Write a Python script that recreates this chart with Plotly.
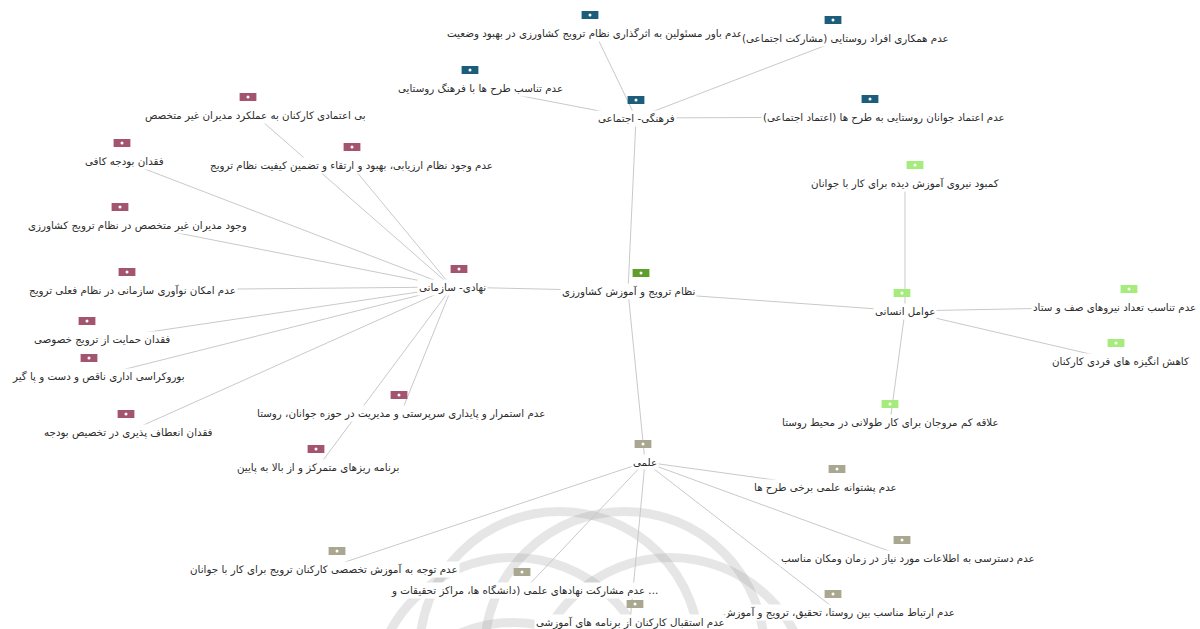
import math
import plotly.graph_objects as go

# ---------------- data ----------------
node_labels = [
    "نظام ترویج و آموزش کشاورزی",
    "فرهنگی- اجتماعی",
    "نهادی- سازمانی",
    "عوامل انسانی",
    "علمی",
    # فرهنگی- اجتماعی
    "عدم باور مسئولین به اثرگذاری نظام ترویج کشاورزی در بهبود وضعیت",
    "عدم همکاری افراد روستایی (مشارکت اجتماعی)",
    "عدم تناسب طرح ها با فرهنگ روستایی",
    "عدم اعتماد جوانان روستایی به طرح ها (اعتماد اجتماعی)",
    # نهادی- سازمانی
    "بی اعتمادی کارکنان به عملکرد مدیران غیر متخصص",
    "فقدان بودجه کافی",
    "عدم وجود نظام ارزیابی، بهبود و ارتقاء و تضمین کیفیت نظام ترویج",
    "وجود مدیران غیر متخصص در نظام ترویج کشاورزی",
    "عدم امکان نوآوری سازمانی در نظام فعلی ترویج",
    "فقدان حمایت از ترویج خصوصی",
    "بوروکراسی اداری ناقص و دست و پا گیر",
    "فقدان انعطاف پذیری در تخصیص بودجه",
    "عدم استمرار و پایداری سرپرستی و مدیریت در حوزه جوانان، روستا",
    "برنامه ریزهای متمرکز و از بالا به پایین",
    # عوامل انسانی
    "کمبود نیروی آموزش دیده برای کار با جوانان",
    "عدم تناسب تعداد نیروهای صف و ستاد",
    "کاهش انگیزه های فردی کارکنان",
    "علاقه کم مروجان برای کار طولانی در محیط روستا",
    # علمی
    "عدم پشتوانه علمی برخی طرح ها",
    "عدم دسترسی به اطلاعات مورد نیاز در زمان ومکان مناسب",
    "عدم ارتباط مناسب بین روستا، تحقیق، ترویج و آموزش",
    "عدم استقبال کارکنان از برنامه های آموزشی",
    "عدم مشارکت نهادهای علمی (دانشگاه ها، مراکز تحقیقات و ...",
    "عدم توجه به آموزش تخصصی کارکنان ترویج برای کار با جوانان",
]

node_group = [
    "root", "culture", "institution", "human", "science",
    "culture", "culture", "culture", "culture",
    "institution", "institution", "institution", "institution", "institution",
    "institution", "institution", "institution", "institution", "institution",
    "human", "human", "human", "human",
    "science", "science", "science", "science", "science", "science",
]

# layout position of each node's label (network layout space, 1200 x 629)
node_x = [628, 636, 452, 905, 645,
          595, 845, 480, 884,
          255, 124, 351, 137, 132, 102, 98, 128, 401, 318,
          905, 1114, 1120, 890,
          825, 908, 839, 630, 524, 324]
node_y = [291, 118, 287, 311, 462,
          33, 38, 88, 117,
          115, 161, 165, 225, 290, 339, 376, 432, 413, 467,
          183, 307, 361, 422,
          487, 558, 612, 622, 590, 569]
# layout x of each node's icon
icon_x = [641, 636, 459, 902, 643,
          590, 833, 470, 870,
          248, 122, 352, 120, 127, 87, 89, 126, 399, 316,
          915, 1129, 1116, 890,
          837, 902, 833, 635, 522, 337]

edge_source = [0, 0, 0, 0,
               1, 1, 1, 1,
               2, 2, 2, 2, 2, 2, 2, 2, 2, 2,
               3, 3, 3, 3,
               4, 4, 4, 4, 4, 4]
edge_target = [1, 2, 3, 4,
               5, 6, 7, 8,
               9, 10, 11, 12, 13, 14, 15, 16, 17, 18,
               19, 20, 21, 22,
               23, 24, 25, 26, 27, 28]

group_colors = {
    "root": "#5f9e2a",
    "culture": "#1d5d7c",
    "institution": "#a3546f",
    "human": "#a6ec7c",
    "science": "#a9a78f",
}
# ---------------------------------------

W, H = 1200, 629
FONT = "DejaVu Sans, Tahoma, sans-serif"
ICON_OFFSET = 18

fig = go.Figure()

# faint watermark emblem in the background
wm_cx, wm_cy, wm_R, wm_r = 592, 730, 85, 140
for k in range(8):
    a = math.pi * (k / 4.0) + math.pi / 8
    cx = wm_cx + wm_R * math.cos(a)
    cy = wm_cy + wm_R * math.sin(a)
    fig.add_shape(type="circle", xref="x", yref="y",
                  x0=cx - wm_r, x1=cx + wm_r, y0=cy - wm_r, y1=cy + wm_r,
                  line=dict(color="rgba(160,160,160,0.26)", width=9),
                  layer="below")

# edges
ex, ey = [], []
for s, t in zip(edge_source, edge_target):
    ex += [node_x[s], node_x[t], None]
    ey += [node_y[s], node_y[t], None]
fig.add_trace(go.Scatter(x=ex, y=ey, mode="lines",
                         line=dict(color="#c9c9c9", width=1),
                         hoverinfo="skip", showlegend=False))

# icons
for g, col in group_colors.items():
    idx = [i for i, gg in enumerate(node_group) if gg == g]
    xs = [icon_x[i] for i in idx]
    ys = [node_y[i] - ICON_OFFSET for i in idx]
    fig.add_trace(go.Scatter(
        x=xs, y=ys, mode="markers",
        marker=dict(symbol="line-ew", size=12,
                    line=dict(color=col, width=8)),
        hoverinfo="skip", showlegend=False))
    fig.add_trace(go.Scatter(
        x=xs, y=ys, mode="markers",
        marker=dict(symbol="circle", size=3, color="white",
                    line=dict(width=0)),
        hoverinfo="skip", showlegend=False))

# labels (white background hides the edge ends)
for i, lab in enumerate(node_labels):
    fig.add_annotation(x=node_x[i], y=node_y[i], text=lab,
                       showarrow=False, xref="x", yref="y",
                       font=dict(family=FONT, size=10.3, color="#2c2c2c"),
                       bgcolor="white", borderpad=1,
                       xanchor="center", yanchor="middle")

fig.update_xaxes(range=[0, W], visible=False, fixedrange=True)
fig.update_yaxes(range=[H, 0], visible=False, fixedrange=True)
fig.update_layout(width=W, height=H,
                  margin=dict(l=0, r=0, t=0, b=0),
                  paper_bgcolor="white", plot_bgcolor="white",
                  showlegend=False)

fig.write_html("out.html",
               config={"displayModeBar": False},
               post_script="document.body.style.margin='0';"
                           "document.body.style.overflow='hidden';")
